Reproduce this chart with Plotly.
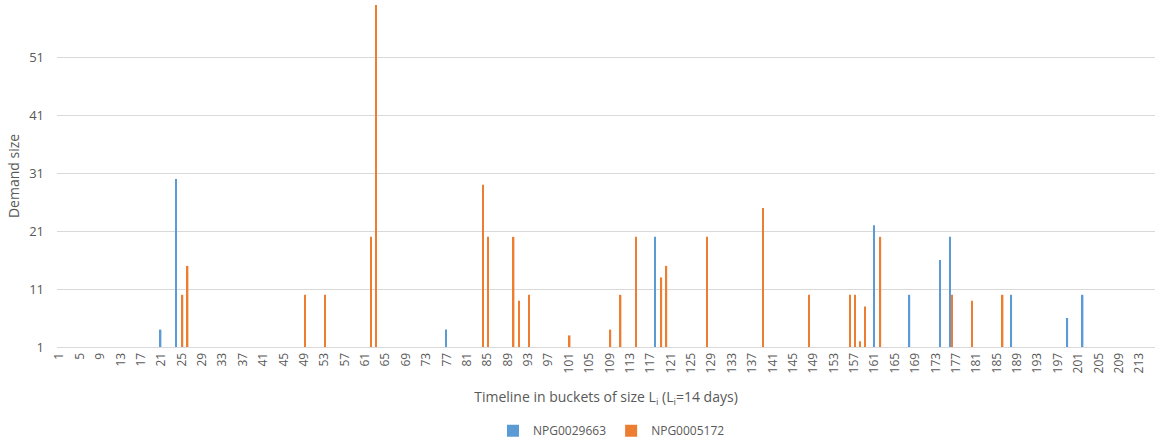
import plotly.graph_objects as go

# Demand per 14-day bucket for the two items (only non-empty buckets listed)
blue_name = "NPG0029663"
blue_buckets = [21, 24, 77, 118, 161, 168, 174, 176, 188, 199, 202]
blue_sizes = [4, 30, 4, 20, 22, 10, 16, 20, 10, 6, 10]

orange_name = "NPG0005172"
orange_buckets = [25, 26, 49, 53, 62, 63, 84, 85, 90, 91, 93, 101, 109, 111,
                  114, 119, 120, 128, 139, 148, 156, 157, 158, 159, 162, 176,
                  180, 186]
orange_sizes = [10, 15, 10, 10, 20, 60, 29, 20, 20, 9, 10, 3, 4, 10,
                20, 13, 15, 20, 25, 10, 10, 10, 2, 8, 20, 10,
                9, 10]

tick_buckets = list(range(1, 214, 4))
tick_labels = [str(v) for v in tick_buckets]
y_ticks = [1, 11, 21, 31, 41, 51]

BLUE = "#5B9BD5"
ORANGE = "#ED7D31"
TEXT = "#595959"
GRID = "#D9D9D9"
FONT = "Open Sans"

fig = go.Figure()
fig.add_trace(go.Bar(
    x=blue_buckets, y=blue_sizes, name=blue_name,
    marker=dict(color=BLUE, line=dict(width=0)),
    width=0.28, offset=-0.29,
))
fig.add_trace(go.Bar(
    x=orange_buckets, y=orange_sizes, name=orange_name,
    marker=dict(color=ORANGE, line=dict(width=0)),
    width=0.28, offset=0.01,
))

fig.update_layout(
    width=1155, height=440,
    margin=dict(l=57, r=0, t=5, b=93, autoexpand=False),
    paper_bgcolor="white", plot_bgcolor="white",
    barmode="overlay",
    font=dict(family=FONT, color=TEXT, size=12),
    showlegend=True,
    legend=dict(orientation="h", x=0.505, xanchor="center",
                y=-0.245, yanchor="middle",
                font=dict(size=12, color=TEXT),
                itemwidth=30, tracegroupgap=0),
    xaxis=dict(
        range=[0.5, 216.05],
        tickmode="array", tickvals=tick_buckets, ticktext=tick_labels,
        tickangle=-90, tickfont=dict(size=12, color=TEXT),
        showgrid=False, zeroline=False,
        showline=True, linecolor=GRID, linewidth=1,
        ticks="", automargin=False,
        title=dict(text="Timeline in buckets of size L<sub>i</sub> (L<sub>i</sub>=14 days)",
                   font=dict(size=14, color=TEXT), standoff=19),
    ),
    yaxis=dict(
        range=[1, 60],
        tickmode="array", tickvals=y_ticks,
        tickfont=dict(size=13, color=TEXT),
        showgrid=True, gridcolor=GRID, gridwidth=1,
        zeroline=False, showline=False, ticks="",
        ticklabelstandoff=12, automargin=False,
        title=dict(text="Demand size", font=dict(size=14, color=TEXT), standoff=6),
    ),
)

fig.write_html("out.html")
